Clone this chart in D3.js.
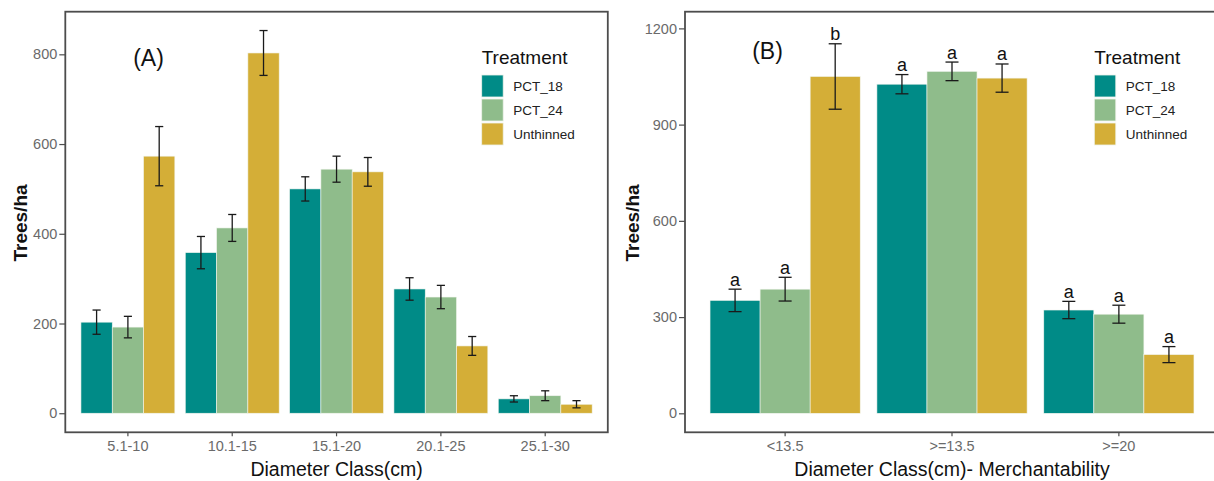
<!DOCTYPE html>
<html>
<head>
<meta charset="utf-8">
<script src="https://cdn.jsdelivr.net/npm/d3@7"></script>
<style>
  html, body { margin: 0; padding: 0; background: #fff; }
  svg { display: block; font-family: "Liberation Sans", Arial, sans-serif; }
</style>
</head>
<body>
<svg id="chart" width="1214" height="481"></svg>
<script>
// ---------------- data ----------------
const treatments = ["PCT_18", "PCT_24", "Unthinned"];
const colors = ["#008B87", "#8FBC8B", "#D4AE37"];

// Panel A
const classesA = ["5.1-10", "10.1-15", "15.1-20", "20.1-25", "25.1-30"];
const pct18A = [203, 358, 500, 277, 32];
const pct24A = [192, 413, 544, 259, 39];
const unthA  = [573, 803, 538, 150, 20];
const pct18A_se = [27, 36, 27, 25, 7];
const pct24A_se = [24, 30, 29, 26, 11];
const unthA_se  = [66, 50, 32, 21, 8];
const ticksA = [0, 200, 400, 600, 800];

// Panel B
const classesB = ["<13.5", ">=13.5", ">=20"];
const pct18B = [352, 1026, 322];
const pct24B = [387, 1066, 309];
const unthB  = [1050, 1045, 183];
const pct18B_se = [35, 30, 27];
const pct24B_se = [37, 29, 28];
const unthB_se  = [102, 44, 25];
const pct18B_let = ["a", "a", "a"];
const pct24B_let = ["a", "a", "a"];
const unthB_let  = ["b", "a", "a"];
const ticksB = [0, 300, 600, 900, 1200];

// ---------------- helpers ----------------
function rows(classes, series, ses, letters) {
  const out = [];
  classes.forEach((c, i) => {
    treatments.forEach((t, j) => {
      out.push({ cls: c, trt: t, v: series[j][i], se: ses[j][i],
                 lab: letters ? letters[j][i] : null, color: colors[j] });
    });
  });
  return out;
}

const svg = d3.select("#chart");

function panel(cfg) {
  const g = svg.append("g");
  const { left, right, top, bottom } = cfg.box;

  const x = d3.scaleBand().domain(cfg.classes).range([left, right])
    .paddingInner(0.1).paddingOuter(0.15);
  const xi = d3.scaleBand().domain(treatments).range([0, x.bandwidth()]);
  const y = d3.scaleLinear().domain(cfg.ydomain).range([bottom, top]);

  // bars
  const data = cfg.data;
  g.selectAll("rect.bar").data(data).join("rect")
    .attr("class", "bar")
    .attr("x", d => x(d.cls) + xi(d.trt))
    .attr("width", xi.bandwidth())
    .attr("y", d => y(d.v))
    .attr("height", d => y(0) - y(d.v))
    .attr("fill", d => d.color)
    .attr("stroke", "#f2f5ef")
    .attr("stroke-width", 0.6);

  // error bars
  const ww = xi.bandwidth() * 0.26;
  const eb = g.selectAll("g.err").data(data).join("g").attr("class", "err")
    .attr("stroke", "#1a1a1a").attr("stroke-width", 1.3);
  eb.append("line")
    .attr("x1", d => x(d.cls) + xi(d.trt) + xi.bandwidth() / 2)
    .attr("x2", d => x(d.cls) + xi(d.trt) + xi.bandwidth() / 2)
    .attr("y1", d => y(d.v + d.se)).attr("y2", d => y(d.v - d.se));
  eb.append("line")
    .attr("x1", d => x(d.cls) + xi(d.trt) + xi.bandwidth() / 2 - ww / 2)
    .attr("x2", d => x(d.cls) + xi(d.trt) + xi.bandwidth() / 2 + ww / 2)
    .attr("y1", d => y(d.v + d.se)).attr("y2", d => y(d.v + d.se));
  eb.append("line")
    .attr("x1", d => x(d.cls) + xi(d.trt) + xi.bandwidth() / 2 - ww / 2)
    .attr("x2", d => x(d.cls) + xi(d.trt) + xi.bandwidth() / 2 + ww / 2)
    .attr("y1", d => y(d.v - d.se)).attr("y2", d => y(d.v - d.se));

  // significance letters
  g.selectAll("text.let").data(data.filter(d => d.lab)).join("text")
    .attr("class", "let")
    .attr("x", d => x(d.cls) + xi(d.trt) + xi.bandwidth() / 2)
    .attr("y", d => y(d.v + d.se) - 3.5)
    .attr("text-anchor", "middle")
    .attr("font-size", 18)
    .attr("fill", "#111")
    .text(d => d.lab);

  // border
  g.append("rect")
    .attr("x", left).attr("y", top)
    .attr("width", right - left).attr("height", bottom - top)
    .attr("fill", "none").attr("stroke", "#4d4d4d").attr("stroke-width", 1.8);

  // axes
  const ya = g.append("g").attr("transform", `translate(${left},0)`)
    .call(d3.axisLeft(y).tickValues(cfg.ticks).tickSize(6).tickPadding(2).tickFormat(d3.format("d")));
  ya.select(".domain").remove();
  ya.selectAll(".tick line").attr("stroke", "#4d4d4d").attr("stroke-width", 1.2);
  ya.selectAll(".tick text").attr("fill", "#6a6a6a").attr("font-size", 14.5)
    .attr("font-family", "Liberation Sans, Arial, sans-serif");

  const xa = g.append("g").attr("transform", `translate(0,${bottom})`)
    .call(d3.axisBottom(x).tickSize(4).tickPadding(4));
  xa.select(".domain").remove();
  xa.selectAll(".tick line").attr("stroke", "#4d4d4d").attr("stroke-width", 1.2);
  xa.selectAll(".tick text").attr("fill", "#6a6a6a").attr("font-size", 14.5)
    .attr("font-family", "Liberation Sans, Arial, sans-serif");

  // axis titles
  g.append("text")
    .attr("x", (left + Math.min(right, 1214) + (right - Math.min(right, 1214))) / 2)
    .attr("x", (left + right) / 2)
    .attr("y", 476)
    .attr("text-anchor", "middle")
    .attr("font-size", 19.5)
    .attr("fill", "#111")
    .text(cfg.xtitle);

  g.append("text")
    .attr("transform", `translate(${cfg.ytitleX},${(top + bottom) / 2 + 1}) rotate(-90)`)
    .attr("text-anchor", "middle")
    .attr("font-size", 19)
    .attr("font-weight", "bold")
    .attr("fill", "#111")
    .text("Trees/ha");

  // panel tag
  g.append("text")
    .attr("x", cfg.tag.x).attr("y", cfg.tag.y)
    .attr("text-anchor", "middle")
    .attr("font-size", 23)
    .attr("fill", "#111")
    .text(cfg.tag.text);

  // legend
  const lg = g.append("g").attr("transform", `translate(${cfg.legend.x},${cfg.legend.y})`);
  lg.append("text").attr("x", 0).attr("y", 0)
    .attr("font-size", 19).attr("fill", "#111").text("Treatment");
  treatments.forEach((t, j) => {
    lg.append("rect")
      .attr("x", 0).attr("y", 11 + j * 24)
      .attr("width", 21.5).attr("height", 22)
      .attr("fill", colors[j])
      .attr("stroke", "#eef2ea").attr("stroke-width", 0.8);
    lg.append("text")
      .attr("x", 31.5).attr("y", 11 + j * 24 + 11)
      .attr("dy", "0.36em")
      .attr("font-size", 13.5).attr("fill", "#222")
      .text(t);
  });
}

panel({
  box: { left: 65.3, right: 607.8, top: 11.7, bottom: 432.3 },
  classes: classesA,
  data: rows(classesA, [pct18A, pct24A, unthA], [pct18A_se, pct24A_se, unthA_se], null),
  ydomain: [-42.5, 895],
  ticks: ticksA,
  xtitle: "Diameter Class(cm)",
  ytitleX: 27,
  tag: { x: 148.5, y: 66, text: "(A)" },
  legend: { x: 481.7, y: 64 }
});

panel({
  box: { left: 685, right: 1219, top: 11.7, bottom: 432.3 },
  classes: classesB,
  data: rows(classesB, [pct18B, pct24B, unthB], [pct18B_se, pct24B_se, unthB_se],
             [pct18B_let, pct24B_let, unthB_let]),
  ydomain: [-59.2, 1252],
  ticks: ticksB,
  xtitle: "Diameter Class(cm)- Merchantability",
  ytitleX: 639,
  tag: { x: 767.5, y: 59, text: "(B)" },
  legend: { x: 1094.3, y: 64 }
});
</script>
</body>
</html>
